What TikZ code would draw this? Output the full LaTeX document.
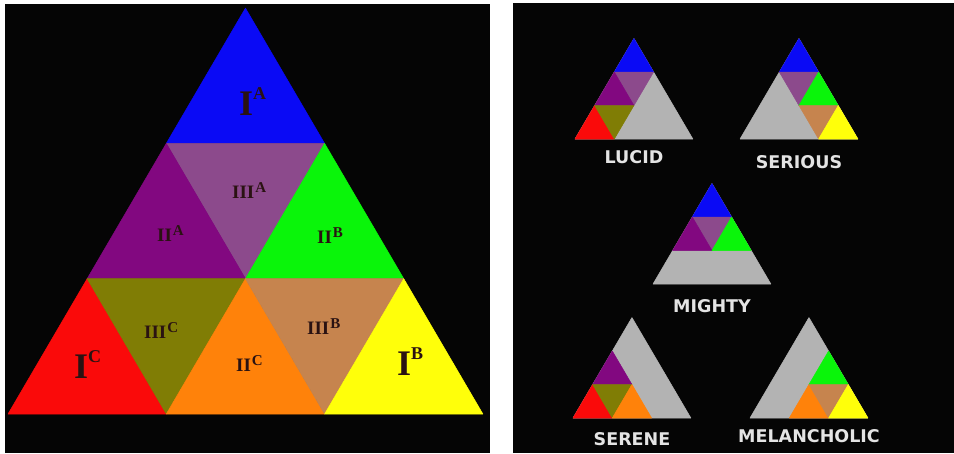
\documentclass[tikz,border=0pt]{standalone}
\usepackage{fontspec}
\setmainfont{Liberation Serif}
\newfontfamily\moodfont{DejaVu Sans}
\definecolor{panelBlack}{HTML}{050505}
\definecolor{pieceBlue}{HTML}{0A0AF5}
\definecolor{pieceViolet}{HTML}{8C4A8C}
\definecolor{piecePurple}{HTML}{820880}
\definecolor{pieceGreen}{HTML}{0AF50A}
\definecolor{pieceRed}{HTML}{FA0A0A}
\definecolor{pieceOlive}{HTML}{807D05}
\definecolor{pieceOrange}{HTML}{FF820A}
\definecolor{pieceBrown}{HTML}{C6844E}
\definecolor{pieceYellow}{HTML}{FFFF0A}
\definecolor{restGray}{HTML}{B3B3B3}
\definecolor{labelInk}{HTML}{2A1212}
\definecolor{moodInk}{HTML}{E4E4E4}

\newcommand{\bigrom}[2]{{\fontsize{36}{36}\selectfont\bfseries #1}\raisebox{16pt}{\fontsize{18}{18}\selectfont\bfseries #2}}
\newcommand{\smallrom}[2]{{\fontsize{19}{19}\selectfont\bfseries #1}\hspace{1pt}\raisebox{6pt}{\fontsize{15}{15}\selectfont\bfseries #2}}

\tikzset{
  piece/.style={fill=#1, draw=#1, line width=0.5pt, line join=round},
  romlabel/.style={anchor=base west, inner sep=0pt, text=labelInk},
  mood/.style={anchor=base, inner sep=0pt, text=moodInk, font=\moodfont\bfseries\fontsize{17.5}{17.5}\selectfont},
  % the nine small triangles, in units of one side (x) and one row (y)
  pics/IA/.style={code={\path[piece=pieceBlue] (1,2) -- (2,2) -- (1.5,3) -- cycle;}},
  pics/IIIA/.style={code={\path[piece=pieceViolet] (1,2) -- (2,2) -- (1.5,1) -- cycle;}},
  pics/IIA/.style={code={\path[piece=piecePurple] (0.5,1) -- (1.5,1) -- (1,2) -- cycle;}},
  pics/IIB/.style={code={\path[piece=pieceGreen] (1.5,1) -- (2.5,1) -- (2,2) -- cycle;}},
  pics/IC/.style={code={\path[piece=pieceRed] (0,0) -- (1,0) -- (0.5,1) -- cycle;}},
  pics/IIIC/.style={code={\path[piece=pieceOlive] (0.5,1) -- (1.5,1) -- (1,0) -- cycle;}},
  pics/IIC/.style={code={\path[piece=pieceOrange] (1,0) -- (2,0) -- (1.5,1) -- cycle;}},
  pics/IIIB/.style={code={\path[piece=pieceBrown] (1.5,1) -- (2.5,1) -- (2,0) -- cycle;}},
  pics/IB/.style={code={\path[piece=pieceYellow] (2,0) -- (3,0) -- (2.5,1) -- cycle;}},
}

\begin{document}
\begin{tikzpicture}[x=1pt, y=-1pt]
  \useasboundingbox (0,0) rectangle (954,453);
  \fill[white] (0,0) rectangle (954,453);
  \fill[panelBlack] (5,4) rectangle (490,453);
  \fill[panelBlack] (513,3) rectangle (954,453);

  % Left: the full triangle of nine parts
  \begin{scope}[shift={(8,414)}, x=158.3pt, y=135.3pt]
    \foreach \p in {IA,IIIA,IIA,IIB,IC,IIIC,IIC,IIIB,IB}
      \pic {\p};
  \end{scope}
  \foreach \nm/\x/\y/\sup in {IA/239/115/A, IC/74/378/C, IB/397/375/B}
    \node[romlabel] (lab\nm) at (\x,\y) {\bigrom{I}{\sup}};
  \foreach \nm/\x/\y/\num/\sup in {IIIA/232/198/III/A, IIA/157/241/II/A, IIB/317/243/II/B,
      IIIC/144/338/III/C, IIC/236/371/II/C, IIIB/307/334/III/B}
    \node[romlabel] (lab\nm) at (\x,\y) {\smallrom{\num}{\sup}};

  % Right: five moods, the unused parts greyed out
  \foreach \px/\py/\ly/\word/\kept [count=\k] in {
      575/139/163/LUCID/{IA,IIIA,IIA,IC,IIIC},
      740/139/168/SERIOUS/{IA,IIIA,IIB,IIIB,IB},
      653/284/312/MIGHTY/{IA,IIIA,IIA,IIB},
      573/418/445/SERENE/{IIA,IC,IIIC,IIC},
      750/418/442/MELANCHOLIC/{IIB,IIC,IIIB,IB}} {
    \begin{scope}[shift={(\px,\py)}, x=39.3pt, y=33.5pt]
      \path[piece=restGray] (0,0) -- (3,0) -- (1.5,3) -- cycle;
      \foreach \p in \kept
        \pic {\p};
    \end{scope}
    \node[mood] (mood\k) at (\px+59,\ly) {\word};
  }
\end{tikzpicture}
\end{document}
